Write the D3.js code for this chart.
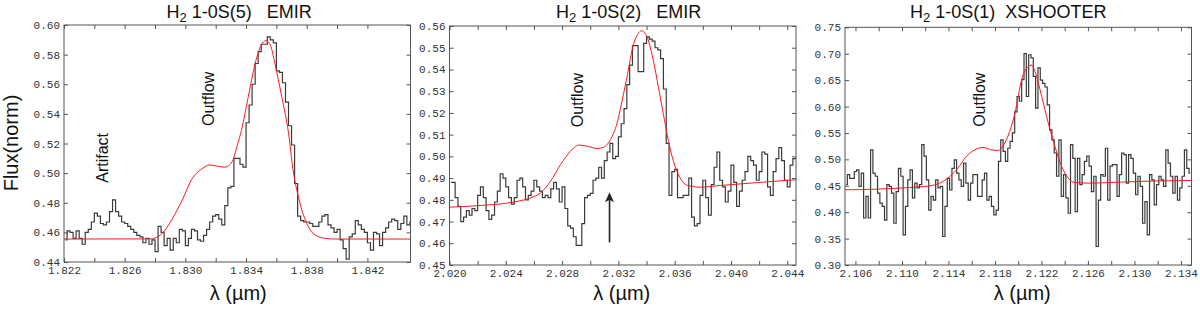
<!DOCTYPE html>
<html>
<head>
<meta charset="utf-8">
<script src="https://cdn.jsdelivr.net/npm/d3@7"></script>
<style>
  body { margin: 0; background: #fff; }
  text { font-family: "Liberation Sans", Arial, sans-serif; }
  .tick text { font-family: "Liberation Mono", monospace; font-size: 11px; fill: #333; }
  .tick line { stroke: #555; }
</style>
</head>
<body>
<script>
// ---- data ----

// H2 1-0S(5) EMIR : binned spectrum, bins of 0.0002 um from 1.822
const s5Start = 1.822, s5Bin = 0.0002;
const s5Flux = [
  0.455,0.461,0.460,0.456,0.461,0.456,0.452,0.460,0.462,0.467,
  0.473,0.471,0.466,0.465,0.467,0.474,0.482,0.474,0.471,0.467,
  0.466,0.464,0.462,0.460,0.458,0.457,0.453,0.456,0.452,0.455,
  0.447,0.464,0.460,0.451,0.456,0.448,0.456,0.453,0.462,0.461,
  0.451,0.456,0.462,0.461,0.455,0.454,0.458,0.462,0.467,0.471,
  0.472,0.469,0.465,0.478,0.490,0.491,0.510,0.510,0.506,0.504,
  0.534,0.546,0.560,0.574,0.582,0.587,0.587,0.592,0.590,0.588,
  0.569,0.568,0.561,0.548,0.532,0.519,0.493,0.471,0.468,0.467,
  0.467,0.466,0.464,0.464,0.467,0.471,0.472,0.465,0.463,0.460,
  0.462,0.455,0.449,0.442,0.457,0.459,0.468,0.465,0.462,0.460,
  0.453,0.448,0.460,0.459,0.451,0.460,0.463,0.467,0.469,0.468,
  0.462,0.466,0.471,0.465,0.467
];
// fitted model (red)
const s5ModelX = [1.822,1.8277,1.8282,1.8285,1.8291,1.8298,1.8304,1.8311,1.8316,1.8322,1.8326,1.8331,1.8334,1.8337,1.83415,1.8346,1.835,1.8353,1.8356,1.8359,1.83635,1.8368,1.8371,1.83745,1.8379,1.8383,1.8388,1.8392,1.8399,1.845];
const s5ModelY = [0.4555,0.4556,0.4572,0.4595,0.4685,0.482,0.4955,0.503,0.5055,0.5045,0.504,0.508,0.518,0.529,0.5517,0.574,0.5865,0.5894,0.5865,0.574,0.5517,0.527,0.502,0.484,0.4685,0.4607,0.457,0.456,0.4555,0.4555];

// H2 1-0S(2) EMIR
const s2Start = 2.020, s2Bin = 0.0002;
const s2Flux = [
  0.488,0.488,0.481,0.477,0.470,0.472,0.475,0.473,0.476,0.475,
  0.482,0.486,0.481,0.475,0.471,0.473,0.479,0.484,0.492,0.490,
  0.486,0.481,0.478,0.481,0.489,0.490,0.486,0.480,0.482,0.484,
  0.489,0.486,0.484,0.481,0.482,0.481,0.485,0.488,0.485,0.479,
  0.486,0.476,0.468,0.467,0.463,0.459,0.459,0.469,0.481,0.482,
  0.483,0.489,0.490,0.495,0.490,0.498,0.502,0.506,0.499,0.500,
  0.509,0.515,0.522,0.533,0.542,0.551,0.551,0.539,0.539,0.552,
  0.555,0.554,0.553,0.550,0.549,0.545,0.531,0.506,0.482,0.493,
  0.494,0.481,0.481,0.482,0.482,0.490,0.472,0.468,0.469,0.482,
  0.489,0.481,0.473,0.487,0.495,0.502,0.489,0.486,0.479,0.484,
  0.496,0.488,0.477,0.484,0.489,0.493,0.500,0.498,0.496,0.489,
  0.493,0.502,0.501,0.486,0.482,0.493,0.499,0.504,0.498,0.489,
  0.486,0.496,0.499,0.499
];
const s2ModelX = [2.020,2.0222,2.02458,2.02576,2.02647,2.02718,2.02789,2.0286,2.02919,2.02978,2.03049,2.03097,2.03144,2.03191,2.03213,2.0326,2.03307,2.0334,2.03365,2.03414,2.03449,2.03485,2.0352,2.03556,2.03591,2.03627,2.03663,2.0371,2.03781,2.03923,2.0416,2.0447];
const s2ModelY = [0.4766,0.4774,0.479,0.4809,0.4832,0.4886,0.4962,0.5024,0.5052,0.5047,0.5036,0.5042,0.5078,0.5154,0.5216,0.5362,0.5515,0.5565,0.5578,0.5531,0.5439,0.5316,0.5193,0.507,0.4978,0.4916,0.4878,0.4863,0.4858,0.4866,0.4878,0.4893];
// arrow marking the line position
const s2ArrowX = [2.03137, 2.03137];
const s2ArrowY = [0.4604, 0.4835];

// H2 1-0S(1) XSHOOTER
const s1Start = 2.1051, s1Bin = 0.0002;
const s1Flux = [
  0.452,0.471,0.464,0.464,0.477,0.480,0.449,0.474,0.389,0.430,
  0.389,0.518,0.474,0.468,0.436,0.417,0.411,0.385,0.452,0.449,
  0.436,0.379,0.439,0.483,0.468,0.357,0.411,0.461,0.480,0.427,
  0.455,0.446,0.452,0.528,0.506,0.461,0.404,0.430,0.423,0.461,
  0.446,0.449,0.354,0.411,0.464,0.442,0.483,0.499,0.474,0.461,
  0.449,0.493,0.455,0.423,0.455,0.471,0.471,0.430,0.430,0.461,
  0.474,0.423,0.430,0.411,0.395,0.404,0.496,0.537,0.515,0.496,
  0.521,0.534,0.550,0.590,0.619,0.610,0.651,0.700,0.619,0.698,
  0.692,0.657,0.597,0.673,0.650,0.644,0.637,0.603,0.556,0.537,
  0.512,0.468,0.537,0.430,0.471,0.427,0.398,0.528,0.502,0.401,
  0.502,0.452,0.471,0.496,0.506,0.487,0.439,0.468,0.335,0.423,
  0.471,0.468,0.521,0.423,0.487,0.490,0.490,0.430,0.471,0.512,
  0.509,0.455,0.509,0.502,0.474,0.433,0.468,0.449,0.379,0.420,
  0.357,0.471,0.461,0.414,0.452,0.468,0.461,0.449,0.518,0.493,
  0.468,0.436,0.468,0.423,0.446,0.468,0.518,0.483,0.474
];
const s1ModelX = [2.1051,2.1078,2.11066,2.11239,2.11325,2.11411,2.11482,2.11554,2.11626,2.11697,2.11769,2.11826,2.11884,2.11941,2.11972,2.1203,2.12087,2.12116,2.12144,2.12202,2.12259,2.12316,2.12374,2.12431,2.12488,2.12603,2.12833,2.1312,2.1349];
const s1ModelY = [0.4423,0.4436,0.4467,0.4499,0.455,0.4676,0.4834,0.5056,0.518,0.5225,0.518,0.5168,0.5307,0.5624,0.5877,0.6508,0.6761,0.6785,0.6667,0.6193,0.5687,0.5245,0.4866,0.4644,0.4562,0.455,0.4565,0.4587,0.46];

// tick labels
const s5XTicks = [1.822, 1.826, 1.830, 1.834, 1.838, 1.842];
const s5YTicks = [0.44, 0.46, 0.48, 0.50, 0.52, 0.54, 0.56, 0.58, 0.60];
const s2XTicks = [2.020, 2.024, 2.028, 2.032, 2.036, 2.040, 2.044];
const s2YTicks = [0.45, 0.46, 0.47, 0.48, 0.49, 0.50, 0.51, 0.52, 0.53, 0.54, 0.55, 0.56];
const s1XTicks = [2.106, 2.110, 2.114, 2.118, 2.122, 2.126, 2.130, 2.134];
const s1YTicks = [0.30, 0.35, 0.40, 0.45, 0.50, 0.55, 0.60, 0.65, 0.70, 0.75];

// ---- svg ----
const svg = d3.select("body").append("svg")
  .attr("width", 1200)
  .attr("height", 309);

// y axis title (shared)
svg.append("text")
  .attr("transform", "translate(17.5,143) rotate(-90)")
  .attr("text-anchor", "middle")
  .style("font-size", "20px")
  .attr("fill", "#111")
  .text("Flux(norm)");

function drawPanel(p) {
  const x = d3.scaleLinear().domain(p.xDomain).range([p.left, p.right]);
  const y = d3.scaleLinear().domain(p.yDomain).range([p.bottom, p.top]);
  const g = svg.append("g");

  g.append("clipPath").attr("id", p.id)
    .append("rect")
    .attr("x", p.left).attr("y", p.top)
    .attr("width", p.right - p.left).attr("height", p.bottom - p.top);

  // minor ticks every 0.002, labels every 0.004
  const minor = d3.range(p.xTicks.length * 2 - 1).map(i => p.xTicks[0] + i * 0.002)
    .filter(v => v <= p.xDomain[1]);
  const isLabel = d => p.xTicks.some(v => Math.abs(v - d) < 1e-7);

  g.append("g")
    .attr("transform", `translate(0,${p.bottom})`)
    .call(d3.axisBottom(x).tickValues(minor).tickSize(-4).tickPadding(4)
      .tickFormat(d => isLabel(d) ? d3.format(".3f")(d) : ""))
    .call(a => a.select(".domain").remove());
  g.append("g")
    .attr("transform", `translate(0,${p.top})`)
    .call(d3.axisTop(x).tickValues(minor).tickSize(-4).tickFormat(""))
    .call(a => a.select(".domain").remove());
  g.append("g")
    .attr("transform", `translate(${p.left},0)`)
    .call(d3.axisLeft(y).tickValues(p.yTicks).tickSize(-4).tickPadding(4)
      .tickFormat(d3.format(".2f")))
    .call(a => a.select(".domain").remove());
  g.append("g")
    .attr("transform", `translate(${p.right},0)`)
    .call(d3.axisRight(y).tickValues(p.yTicks).tickSize(-4).tickFormat(""))
    .call(a => a.select(".domain").remove());

  // binned spectrum as steps
  const bins = p.flux.map((v, i) => [p.start + (i + 0.5) * p.bin, v]);
  g.append("path")
    .datum(bins)
    .attr("clip-path", `url(#${p.id})`)
    .attr("fill", "none")
    .attr("stroke", "#3a3a3a")
    .attr("stroke-width", 1.2)
    .attr("d", d3.line().x(d => x(d[0])).y(d => y(d[1])).curve(d3.curveStep));

  // model
  g.append("path")
    .datum(p.modelX.map((v, i) => [v, p.modelY[i]]))
    .attr("clip-path", `url(#${p.id})`)
    .attr("fill", "none")
    .attr("stroke", "#ff1a1a")
    .attr("stroke-width", 1)
    .attr("d", d3.line().x(d => x(d[0])).y(d => y(d[1])).curve(d3.curveMonotoneX));

  // frame
  g.append("rect")
    .attr("x", p.left).attr("y", p.top)
    .attr("width", p.right - p.left).attr("height", p.bottom - p.top)
    .attr("fill", "none").attr("stroke", "#555").attr("stroke-width", 1);

  // annotations
  p.notes.forEach(n => {
    g.append("text")
      .attr("transform", `translate(${x(n.x)},${y(n.y)}) rotate(-90)`)
      .attr("text-anchor", "middle")
      .attr("dy", "0.35em")
      .style("font-size", "16px")
      .attr("fill", "#111")
      .text(n.text);
  });

  // title with subscript
  const t = g.append("text")
    .attr("x", (p.left + p.right) / 2 + p.titleShift)
    .attr("y", 18)
    .attr("text-anchor", "middle")
    .style("font-size", "18px")
    .style("white-space", "pre")
    .attr("fill", "#111");
  t.append("tspan").text("H");
  t.append("tspan").attr("dy", 4).style("font-size", "13px").text("2");
  t.append("tspan").attr("dy", -4).text(p.title);

  // x axis title
  g.append("text")
    .attr("x", (p.left + p.right) / 2 + p.labelShift)
    .attr("y", 300)
    .attr("text-anchor", "middle")
    .style("font-size", "20px")
    .attr("fill", "#111")
    .text("λ (µm)");

  return {x, y, g};
}

drawPanel({
  id: "c5", left: 64, right: 410.5, top: 25, bottom: 262,
  xDomain: [1.822, 1.84484], yDomain: [0.44, 0.60],
  xTicks: s5XTicks, yTicks: s5YTicks,
  start: s5Start, bin: s5Bin, flux: s5Flux,
  modelX: s5ModelX, modelY: s5ModelY,
  title: " 1-0S(5)   EMIR", titleShift: 2, labelShift: 1,
  notes: [{x: 1.8245, y: 0.5103, text: "Artifact"}, {x: 1.83154, y: 0.5501, text: "Outflow"}]
});

const p2 = drawPanel({
  id: "c2", left: 449.5, right: 796, top: 26, bottom: 265,
  xDomain: [2.020, 2.04462], yDomain: [0.45, 0.56],
  xTicks: s2XTicks, yTicks: s2YTicks,
  start: s2Start, bin: s2Bin, flux: s2Flux,
  modelX: s2ModelX, modelY: s2ModelY,
  title: " 1-0S(2)   EMIR", titleShift: 6, labelShift: -1,
  notes: [{x: 2.02907, y: 0.5259, text: "Outflow"}]
});

// arrow in panel 2
p2.g.append("line")
  .attr("x1", p2.x(s2ArrowX[0])).attr("x2", p2.x(s2ArrowX[1]))
  .attr("y1", p2.y(s2ArrowY[0])).attr("y2", p2.y(s2ArrowY[1]) + 6)
  .attr("stroke", "#222").attr("stroke-width", 1.6);
p2.g.append("path")
  .attr("transform", `translate(${p2.x(s2ArrowX[1])},${p2.y(s2ArrowY[1])})`)
  .attr("d", "M0,0 L-4.5,10 L0,7.5 L4.5,10 Z")
  .attr("fill", "#222");

drawPanel({
  id: "c1", left: 845, right: 1191.5, top: 27.3, bottom: 265,
  xDomain: [2.1051, 2.13491], yDomain: [0.30, 0.75],
  xTicks: s1XTicks, yTicks: s1YTicks,
  start: s1Start, bin: s1Bin, flux: s1Flux,
  modelX: s1ModelX, modelY: s1ModelY,
  title: " 1-0S(1)  XSHOOTER", titleShift: -10, labelShift: 4,
  notes: [{x: 2.11669, y: 0.6129, text: "Outflow"}]
});
</script>
</body>
</html>
